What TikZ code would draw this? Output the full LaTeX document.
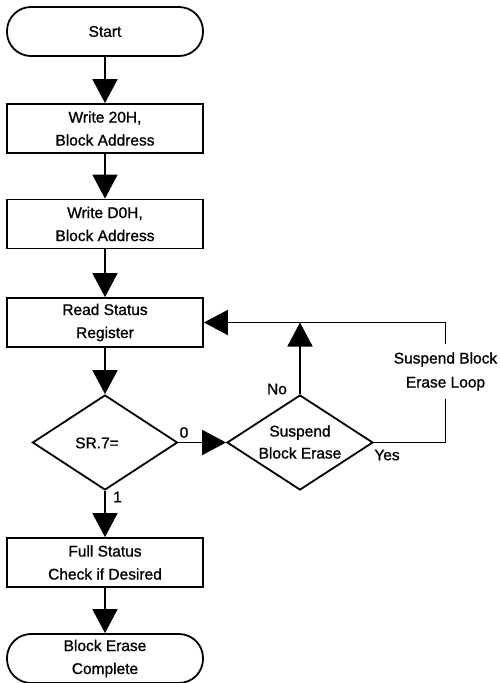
\documentclass[tikz,border=0pt]{standalone}
\usepackage{fontspec}
\setmainfont{Liberation Sans}
\newfontfamily\diagfont[FakeBold=1]{Liberation Sans}
\usetikzlibrary{arrows.meta,shapes.geometric}
\begin{document}
\begin{tikzpicture}[x=1pt,y=-1pt,
  line width=1.8pt,
  txt/.style={font=\diagfont\fontsize{15.5}{23}\selectfont, align=center, inner sep=0pt},
  procbox/.style={draw, rectangle, minimum width=196pt, minimum height=49pt, txt},
  term/.style={procbox, rounded corners=24pt},
  decis/.style={draw, diamond, inner sep=0pt},
  flow/.style={-{Triangle[width=25pt,length=24pt]}},
  lbl/.style={font=\diagfont\fontsize{15.5}{18}\selectfont, inner sep=0pt}
]
\useasboundingbox (0,0) rectangle (499,683);
\node[term] (start) at (105,31.5) {Start};
\node[procbox] (w20) at (105,128.5) {Write 20H,\\Block Address};
\node[procbox] (wd0) at (105,224) {Write D0H,\\Block Address};
\node[procbox] (rsr) at (105,322.5) {Read Status\\Register};
\node[decis, minimum width=145pt, minimum height=95pt] (sr7) at (105,442.5) {};
\node[txt] (sr7t) at (97,443) {SR.7=};
\node[decis, minimum width=146pt, minimum height=95pt] (sbe) at (300,442.5) {};
\node[txt, font=\diagfont\fontsize{15.5}{22}\selectfont] (sbet) at (300,442) {Suspend\\Block Erase};
\node[procbox] (fsc) at (105,562.5) {Full Status\\Check if Desired};
\node[term] (done) at (105,658.5) {Block Erase\\Complete};
\node[txt, font=\diagfont\fontsize{15.5}{24}\selectfont, inner ysep=7pt] (loop) at (445.5,371.5) {Suspend Block\\Erase Loop};

\draw[flow] (start.south) -- (w20.north);
\draw[flow] (w20.south) -- (wd0.north);
\draw[flow] (wd0.south) -- (rsr.north);
\draw[flow] (rsr.south) -- (sr7.north);
\draw[flow] (sr7.south) -- (fsc.north);
\draw[flow] (sr7.east) -- (sbe.west);
\draw[flow] (sbe.north) -- (sbe.north |- rsr.east);
\draw (sbe.east) -| (loop.south);
\draw[flow] (loop.north) |- (rsr.east);
\draw[flow] (fsc.south) -- (done.north);

\node[lbl] (one) at (117.5,497) {1};
\node[lbl] (zero) at (184,432.5) {0};
\node[lbl] (no) at (277,389) {No};
\node[lbl] (yes) at (387,455) {Yes};
\end{tikzpicture}
\end{document}
